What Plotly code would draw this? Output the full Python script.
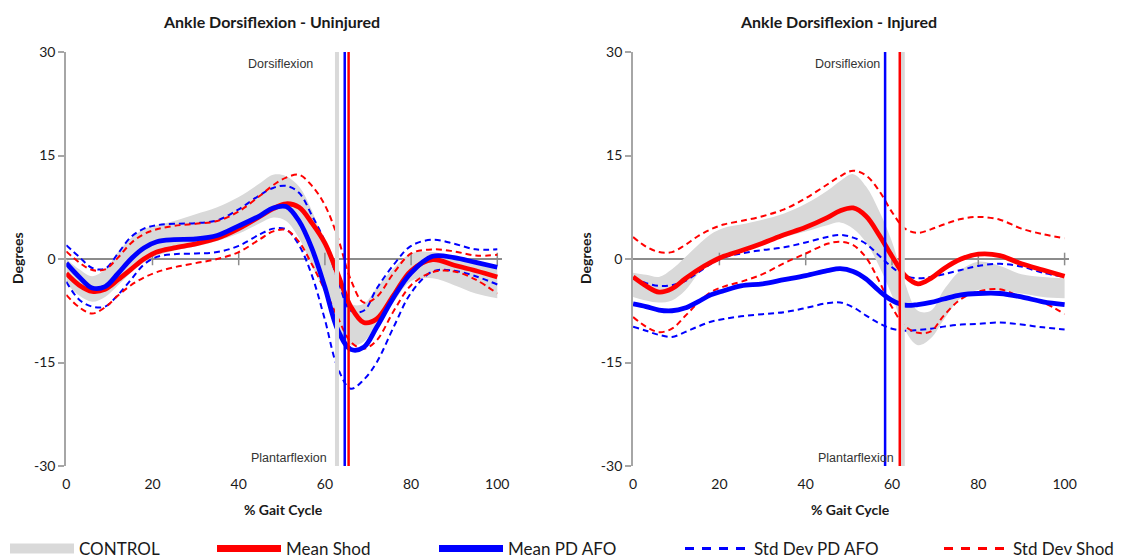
import plotly.graph_objects as go

# ---------------- data ----------------
X = [0, 3, 6, 9, 12, 15, 18, 21, 25, 30, 35, 40, 45, 48, 51, 54, 57, 60, 63, 66, 69, 72, 76, 80, 85, 90, 95, 100]

# Uninjured (left panel)
L_shod = [-2.1, -3.8, -4.7, -4.4, -3.0, -1.5, 0.0, 1.0, 1.6, 2.2, 3.0, 4.4, 6.2, 7.3, 8.0, 7.5, 5.2, 2.3, -2.2, -6.9, -9.2, -8.7, -5.2, -1.7, -0.1, -0.9, -1.7, -2.6]
L_pd = [-0.6, -2.6, -4.2, -4.0, -2.1, 0.0, 1.6, 2.5, 2.8, 2.9, 3.4, 4.8, 6.3, 7.4, 7.6, 5.5, 1.5, -4.1, -10.3, -13.1, -12.8, -9.9, -5.5, -2.0, 0.4, 0.2, -0.5, -1.2]
L_pd_hi = [2.0, 0.3, -1.3, -1.4, 0.8, 3.2, 4.4, 4.9, 5.1, 5.2, 5.6, 7.2, 9.3, 10.3, 10.6, 9.6, 6.3, 2.5, -3.0, -7.5, -7.5, -4.3, -0.8, 1.9, 2.8, 2.2, 1.4, 1.4]
L_pd_lo = [-3.3, -5.9, -6.9, -6.9, -5.2, -3.0, -0.8, 0.3, 0.7, 0.8, 1.0, 1.9, 3.6, 4.4, 4.3, 2.0, -2.4, -8.8, -15.8, -18.8, -17.5, -15.0, -9.8, -4.9, -1.8, -1.7, -2.5, -3.7]
L_shod_hi = [1.1, -0.5, -1.6, -1.5, 0.2, 2.3, 3.6, 4.3, 4.8, 5.1, 5.5, 6.9, 9.2, 10.7, 11.8, 12.2, 10.6, 7.8, 3.1, -3.0, -6.3, -5.5, -2.0, 0.8, 1.4, 1.1, 0.5, 0.6]
L_shod_lo = [-5.2, -7.0, -7.9, -7.0, -5.3, -3.8, -2.7, -1.9, -1.2, -0.6, 0.0, 1.0, 2.9, 4.0, 4.2, 2.5, -0.8, -4.5, -8.5, -12.0, -13.0, -11.8, -7.5, -3.8, -1.9, -1.8, -3.0, -5.0]
L_ctl_hi = [0.0, -1.5, -2.5, -1.5, 1.0, 3.0, 4.3, 4.9, 5.5, 6.5, 7.5, 9.0, 11.0, 12.2, 12.0, 10.5, 7.0, 2.0, -3.0, -6.5, -6.5, -4.2, -1.3, 0.8, 1.0, 0.2, -0.8, -1.3]
L_ctl_lo = [-3.5, -5.3, -6.2, -5.5, -3.8, -2.0, -0.5, 0.5, 1.2, 1.8, 2.6, 3.7, 5.2, 6.0, 5.5, 3.0, -1.0, -5.0, -10.0, -12.5, -12.0, -9.5, -6.2, -3.2, -2.8, -3.8, -5.0, -5.7]
L_toe_off = [62.8, 64.6, 65.5]   # control, PD AFO, shod

# Injured (right panel)
R_shod = [-2.6, -3.9, -4.8, -4.3, -2.9, -1.6, -0.5, 0.4, 1.2, 2.3, 3.5, 4.6, 6.0, 7.0, 7.4, 6.2, 3.5, 0.4, -2.4, -3.6, -2.8, -1.4, 0.0, 0.7, 0.5, -0.7, -1.6, -2.5]
R_pd = [-6.5, -6.9, -7.4, -7.5, -7.1, -6.2, -5.2, -4.6, -3.9, -3.6, -3.0, -2.4, -1.7, -1.4, -1.8, -2.9, -4.6, -6.0, -6.7, -6.6, -6.3, -5.8, -5.2, -5.0, -5.0, -5.5, -6.2, -6.6]
R_pd_hi = [-2.8, -3.5, -3.9, -3.8, -3.2, -2.0, -0.7, 0.2, 0.8, 1.3, 1.7, 2.4, 3.2, 3.5, 3.1, 2.2, 0.5, -1.2, -2.4, -2.8, -2.6, -2.2, -1.6, -1.0, -0.7, -1.1, -2.0, -2.6]
R_pd_lo = [-9.8, -10.4, -11.0, -11.3, -10.6, -9.8, -9.1, -8.7, -8.3, -8.0, -7.7, -7.1, -6.4, -6.3, -7.0, -8.2, -9.3, -10.1, -10.4, -10.3, -10.1, -9.8, -9.5, -9.4, -9.2, -9.5, -9.9, -10.2]
R_shod_hi = [3.2, 1.8, 1.0, 1.0, 2.0, 3.3, 4.3, 5.0, 5.5, 6.2, 7.2, 8.8, 10.8, 12.0, 12.8, 12.1, 9.9, 6.8, 4.4, 3.8, 4.3, 5.0, 5.8, 6.1, 5.7, 4.4, 3.6, 3.0]
R_shod_lo = [-8.4, -9.8, -10.6, -10.1, -8.3, -6.4, -4.8, -4.0, -3.3, -2.2, -0.6, 0.8, 2.2, 2.5, 2.0, 0.2, -3.2, -7.0, -9.7, -10.7, -10.5, -8.2, -5.8, -4.7, -4.4, -5.5, -6.3, -8.0]
R_ctl_hi = [-2.0, -2.3, -2.6, -1.5, 0.2, 2.0, 3.6, 4.5, 5.0, 5.7, 6.6, 8.0, 9.9, 11.3, 12.3, 10.5, 7.0, 2.5, -3.5, -7.5, -7.5, -4.5, -1.6, -0.4, -1.0, -2.2, -2.6, -2.8]
R_ctl_lo = [-5.5, -6.0, -6.3, -6.0, -4.6, -2.2, -0.3, 0.7, 1.4, 2.2, 3.2, 4.0, 4.9, 5.3, 4.4, 2.4, -1.0, -5.3, -10.3, -12.5, -11.5, -8.8, -5.6, -4.5, -4.6, -5.0, -5.5, -5.7]
R_toe_off = [62.5, 58.4, 61.8]   # control, PD AFO, shod

X_TICKS = [0, 20, 40, 60, 80, 100]
Y_TICKS = [-30, -15, 0, 15, 30]
Y_TICK_TEXT = ["-30", "-15", "0", "15", "30"]
Y_RANGE = [-30, 30]
TITLES = ["Ankle Dorsiflexion - Uninjured", "Ankle Dorsiflexion - Injured"]
LEGEND_NAMES = ["CONTROL", "Mean Shod", "Mean PD AFO", "Std Dev PD AFO", "Std Dev Shod"]

# ---------------- style ----------------
RED = "#ff0000"
BLUE = "#0000ff"
GREY = "#d9d9d9"
AXIS = "#a6a6a6"
ZERO = "#8c8c8c"
FONT = "Lato"
W, H = 1128, 560

fig = go.Figure()

panels = [
    dict(xa="x", ya="y", ctl=(L_ctl_lo, L_ctl_hi), shod=L_shod, pd=L_pd,
         pd_band=(L_pd_hi, L_pd_lo), shod_band=(L_shod_hi, L_shod_lo), vlines=L_toe_off),
    dict(xa="x2", ya="y2", ctl=(R_ctl_lo, R_ctl_hi), shod=R_shod, pd=R_pd,
         pd_band=(R_pd_hi, R_pd_lo), shod_band=(R_shod_hi, R_shod_lo), vlines=R_toe_off),
]

for p in panels:
    ax = dict(xaxis=p["xa"], yaxis=p["ya"], showlegend=False, hoverinfo="skip")
    lo, hi = p["ctl"]
    fig.add_trace(go.Scatter(x=X, y=lo, mode="lines", line=dict(width=0, shape="spline", color=GREY), **ax))
    fig.add_trace(go.Scatter(x=X, y=hi, mode="lines", fill="tonexty", fillcolor=GREY,
                             line=dict(width=0, shape="spline", color=GREY), **ax))
    # zero-line tick marks
    fig.add_trace(go.Scatter(x=X_TICKS[1:], y=[0] * (len(X_TICKS) - 1), mode="markers",
                             marker=dict(symbol="line-ns", size=9, line=dict(width=1.5, color=ZERO)), **ax))
    for band, col in ((p["pd_band"], BLUE), (p["shod_band"], RED)):
        for ys in band:
            fig.add_trace(go.Scatter(x=X, y=ys, mode="lines",
                                     line=dict(color=col, width=2, dash="6px,4px", shape="spline"), **ax))
    fig.add_trace(go.Scatter(x=X, y=p["shod"], mode="lines",
                             line=dict(color=RED, width=4.8, shape="spline"), **ax))
    fig.add_trace(go.Scatter(x=X, y=p["pd"], mode="lines",
                             line=dict(color=BLUE, width=4.8, shape="spline"), **ax))
    for xv, col, wv in zip(p["vlines"], [GREY, BLUE, RED], [4, 2.5, 2.5]):
        fig.add_trace(go.Scatter(x=[xv, xv], y=Y_RANGE, mode="lines",
                                 line=dict(color=col, width=wv), **ax))

# legend entries (separate legends so each sits where the original places it)
leg_styles = [
    dict(color=GREY, width=12),
    dict(color=RED, width=7),
    dict(color=BLUE, width=7),
    dict(color=BLUE, width=3, dash="9px,8px"),
    dict(color=RED, width=3, dash="9px,8px"),
]
leg_x = [10, 217, 439, 685, 944]
for i, (name, st) in enumerate(zip(LEGEND_NAMES, leg_styles)):
    lname = "legend" if i == 0 else f"legend{i + 1}"
    fig.add_trace(go.Scatter(x=[None], y=[None], mode="lines", name=name, line=st,
                             legend=lname, showlegend=True, xaxis="x", yaxis="y"))

x_doms = [[66.3 / W, (66.3 + 101 * 4.31) / W], [633.1 / W, (633.1 + 101 * 4.315) / W]]
y_dom = [1 - 466 / H, 1 - 52 / H]

def xaxis(dom, anchor):
    return dict(domain=dom, anchor=anchor, range=[0, 101], tickvals=X_TICKS, showgrid=False,
                zeroline=False, showline=False, ticks="", ticklabelstandoff=8, automargin=False,
                tickfont=dict(family=FONT, size=14, color="#1a1a1a"), fixedrange=True)

def yaxis(anchor):
    return dict(domain=y_dom, anchor=anchor, range=Y_RANGE, tickvals=Y_TICKS, ticktext=Y_TICK_TEXT,
                showgrid=False, zeroline=True, zerolinecolor=ZERO, zerolinewidth=2, automargin=False,
                showline=True, linecolor=AXIS, linewidth=2, ticks="outside", ticklen=6,
                tickcolor=AXIS, tickwidth=1.5, tickfont=dict(family=FONT, size=14, color="#1a1a1a"),
                fixedrange=True)

layout = dict(
    width=W, height=H, margin=dict(l=0, r=0, t=0, b=0, autoexpand=False),
    paper_bgcolor="white", plot_bgcolor="white",
    font=dict(family=FONT, color="#1a1a1a"),
    xaxis=xaxis(x_doms[0], "y"), yaxis=yaxis("x"),
    xaxis2=xaxis(x_doms[1], "y2"), yaxis2=yaxis("x2"),
)
for i, lx in enumerate(leg_x):
    lname = "legend" if i == 0 else f"legend{i + 1}"
    layout[lname] = dict(x=(lx - 5) / W, xanchor="left", y=1 - 549 / H, yanchor="middle",
                         orientation="h", itemwidth=64, bgcolor="rgba(0,0,0,0)",
                         font=dict(family=FONT, size=17, color="#1a1a1a"), itemclick=False,
                         itemdoubleclick=False)
fig.update_layout(**layout)

annotations = []
for i, title in enumerate(TITLES):
    xref = "x" if i == 0 else "x2"
    yref = "y" if i == 0 else "y2"
    common = dict(xref="paper", yref="paper", showarrow=False, xanchor="center", yanchor="middle")
    annotations.append(dict(text=f"<b>{title}</b>", x=[271, 838][i] / W, y=1 - 22 / H,
                            font=dict(family=FONT, size=16, color="#1a1a1a"), **common))
    annotations.append(dict(text="<b>% Gait Cycle</b>", x=[283, 850][i] / W, y=1 - 509 / H,
                            font=dict(family=FONT, size=14, color="#1a1a1a"), **common))
    annotations.append(dict(text="<b>Degrees</b>", x=[18, 586][i] / W, y=1 - 258 / H, textangle=-90,
                            font=dict(family=FONT, size=14, color="#1a1a1a"), **common))
    annotations.append(dict(text="Dorsiflexion", x=49.7, y=28.3, xref=xref, yref=yref, showarrow=False,
                            xanchor="center", yanchor="middle",
                            font=dict(family="Liberation Sans", size=12.5, color="#333333")))
    annotations.append(dict(text="Plantarflexion", x=51.7, y=-28.8, xref=xref, yref=yref, showarrow=False,
                            xanchor="center", yanchor="middle",
                            font=dict(family="Liberation Sans", size=12.5, color="#333333")))
fig.update_layout(annotations=annotations)

fig.write_html("out.html", config={"displayModeBar": False},
               post_script="document.body.style.margin='0';")
